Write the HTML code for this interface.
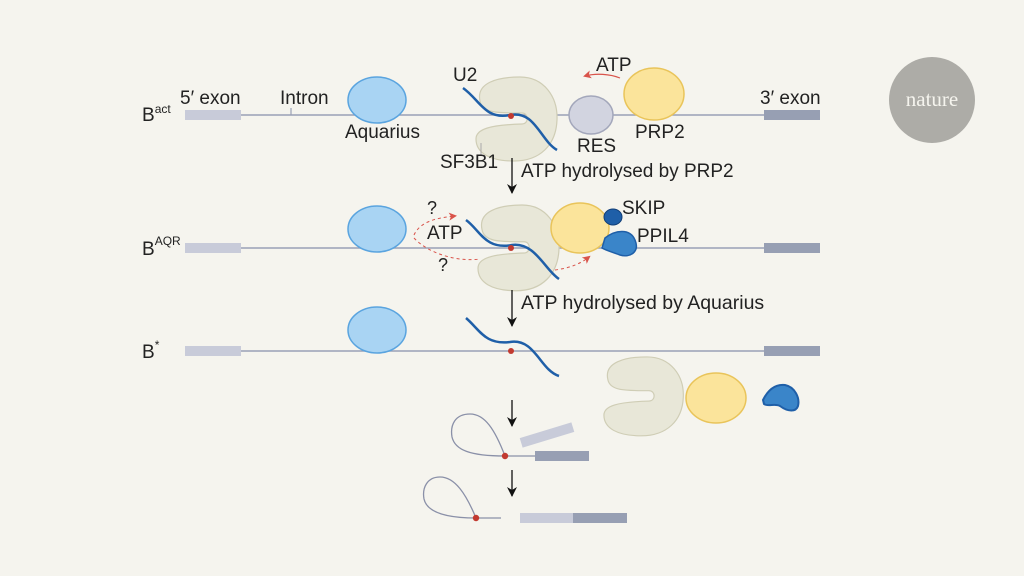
<!DOCTYPE html>
<html><head><meta charset="utf-8"><style>
html,body{margin:0;padding:0;background:#f5f4ee;}
svg{display:block;}
text{font-family:"Liberation Sans",sans-serif;fill:#222;}
</style></head><body>
<svg width="1024" height="576" viewBox="0 0 1024 576" xmlns="http://www.w3.org/2000/svg">
<defs>
<path id="u2" d="M 8,26 C 4,8 25,2 48,2 C 72,2 86,22 85,45 C 84,70 68,86 42,86 C 18,86 4,78 4,64 C 4,54 18,50 50,49 C 57,49 57,38 50,38 C 25,38 10,38 8,26 Z"/>
<marker id="ah" markerWidth="10" markerHeight="10" refX="9" refY="5" orient="auto" markerUnits="userSpaceOnUse"><path d="M0,0 L10,5 L0,10 L3,5 Z" fill="#111"/></marker>
<marker id="rh" markerWidth="8" markerHeight="8" refX="6" refY="4" orient="auto" markerUnits="userSpaceOnUse"><path d="M0,0 L8,4 L0,8 L2,4 Z" fill="#d9534a"/></marker>
</defs>
<rect width="1024" height="576" fill="#f5f4ee"/>

<circle cx="932" cy="100" r="43" fill="#adaca7"/>
<text x="932" y="106" text-anchor="middle" font-size="21" style="fill:#f5f4ee;font-family:'Liberation Serif',serif">nature</text>

<!-- Row 1 -->
<line x1="241" y1="115" x2="764" y2="115" stroke="#9aa0b5" stroke-width="1.5"/>
<rect x="185" y="110" width="56" height="10" fill="#c8cbd9"/>
<rect x="764" y="110" width="56" height="10" fill="#979fb3"/>
<line x1="291" y1="108" x2="291" y2="115" stroke="#9aa0b5" stroke-width="1.2"/>
<text x="142" y="121" font-size="19">B<tspan font-size="12" dy="-8">act</tspan></text>
<text x="180" y="104" font-size="19">5′ exon</text>
<text x="280" y="104" font-size="19">Intron</text>
<text x="760" y="104" font-size="19">3′ exon</text>
<ellipse cx="377" cy="100" rx="29" ry="23" fill="#a9d4f3" stroke="#5aa4df" stroke-width="1.5"/>
<text x="345" y="138" font-size="19">Aquarius</text>
<use href="#u2" transform="translate(472,75)" fill="#e8e7d8" stroke="#cfcdb5" stroke-width="1.2"/>
<path d="M463,88 C480,100 485,120 510,115 C535,110 540,140 557,150" fill="none" stroke="#1f5fa8" stroke-width="2.5"/>
<circle cx="511" cy="116" r="3" fill="#c23a30"/>
<line x1="481" y1="143" x2="481" y2="155" stroke="#aaa" stroke-width="1"/>
<text x="453" y="81" font-size="19">U2</text>
<text x="440" y="168" font-size="19">SF3B1</text>
<ellipse cx="591" cy="115" rx="22" ry="19" fill="#d2d4e0" stroke="#a3a7bb" stroke-width="1.5"/>
<text x="577" y="152" font-size="19">RES</text>
<ellipse cx="654" cy="94" rx="30" ry="26" fill="#fbe49b" stroke="#e9c45a" stroke-width="1.5"/>
<text x="635" y="138" font-size="19">PRP2</text>
<path d="M620,78 C610,74 596,73 585,76" fill="none" stroke="#d9534a" stroke-width="1.2" marker-end="url(#rh)"/>
<text x="596" y="71" font-size="19">ATP</text>

<line x1="512" y1="158" x2="512" y2="193" stroke="#111" stroke-width="1.3" marker-end="url(#ah)"/>
<text x="521" y="177" font-size="19">ATP hydrolysed by PRP2</text>

<!-- Row 2 -->
<line x1="241" y1="248" x2="764" y2="248" stroke="#9aa0b5" stroke-width="1.5"/>
<rect x="185" y="243" width="56" height="10" fill="#c8cbd9"/>
<rect x="764" y="243" width="56" height="10" fill="#979fb3"/>
<text x="142" y="255" font-size="19">B<tspan font-size="12" dy="-10">AQR</tspan></text>
<ellipse cx="377" cy="229" rx="29" ry="23" fill="#a9d4f3" stroke="#5aa4df" stroke-width="1.5"/>
<use href="#u2" transform="translate(474,203) scale(1,1.02)" fill="#e8e7d8" stroke="#cfcdb5" stroke-width="1.2"/>
<path d="M466,220 C480,230 485,250 512,245 C535,242 545,270 559,279" fill="none" stroke="#1f5fa8" stroke-width="2.5"/>
<circle cx="511" cy="248" r="3" fill="#c23a30"/>
<path d="M414,235 C420,222 435,218 455,216" fill="none" stroke="#d9534a" stroke-width="1" stroke-dasharray="3,3" marker-end="url(#rh)"/>
<path d="M414,238 C430,255 460,262 480,259" fill="none" stroke="#d9534a" stroke-width="1" stroke-dasharray="3,3"/>
<path d="M555,270 C570,268 580,264 589,257" fill="none" stroke="#d9534a" stroke-width="1" stroke-dasharray="3,3" marker-end="url(#rh)"/>
<text x="427" y="214" font-size="18">?</text>
<text x="427" y="239" font-size="19">ATP</text>
<text x="438" y="271" font-size="18">?</text>
<ellipse cx="580" cy="228" rx="29" ry="25" fill="#fbe49b" stroke="#e9c45a" stroke-width="1.5"/>
<path d="M605,238 C615,230 630,228 635,240 C640,252 630,258 620,255 C612,252 605,250 602,248 Z" fill="#3a85c9" stroke="#1f5fa8" stroke-width="1.5"/>
<ellipse cx="613" cy="217" rx="9" ry="8" fill="#1f5fa8" stroke="#123f78" stroke-width="1"/>
<text x="622" y="214" font-size="19">SKIP</text>
<text x="637" y="242" font-size="19">PPIL4</text>

<line x1="512" y1="290" x2="512" y2="326" stroke="#111" stroke-width="1.3" marker-end="url(#ah)"/>
<text x="521" y="309" font-size="19.5">ATP hydrolysed by Aquarius</text>

<!-- Row 3 -->
<line x1="241" y1="351" x2="764" y2="351" stroke="#9aa0b5" stroke-width="1.5"/>
<rect x="185" y="346" width="56" height="10" fill="#c8cbd9"/>
<rect x="764" y="346" width="56" height="10" fill="#979fb3"/>
<text x="142" y="358" font-size="19">B<tspan font-size="12" dy="-9">*</tspan></text>
<ellipse cx="377" cy="330" rx="29" ry="23" fill="#a9d4f3" stroke="#5aa4df" stroke-width="1.5"/>
<path d="M466,318 C480,330 485,345 510,342 C535,338 540,370 559,376" fill="none" stroke="#1f5fa8" stroke-width="2.5"/>
<circle cx="511" cy="351" r="3" fill="#c23a30"/>
<use href="#u2" transform="translate(600,355) scale(0.98,0.94)" fill="#e8e7d8" stroke="#cfcdb5" stroke-width="1.2"/>
<ellipse cx="716" cy="398" rx="30" ry="25" fill="#fbe49b" stroke="#e9c45a" stroke-width="1.5"/>
<path d="M763,400 C768,390 775,384 785,385 C795,387 800,398 798,406 C796,412 788,412 780,406 C775,403 768,407 764,404 Z" fill="#3a85c9" stroke="#1f5fa8" stroke-width="2"/>

<!-- Row 4 -->
<line x1="512" y1="400" x2="512" y2="426" stroke="#111" stroke-width="1.3" marker-end="url(#ah)"/>
<path d="M505,456 C495,430 485,414 470,414 C455,414 450,425 452,437 C455,450 470,456 505,456 L535,456" fill="none" stroke="#8a90a8" stroke-width="1.3"/>
<circle cx="505" cy="456" r="3.2" fill="#c23a30"/>
<rect x="535" y="451" width="54" height="10" fill="#979fb3"/>
<rect x="520" y="430" width="54" height="10" fill="#c8cbd9" transform="rotate(-17 547 435)"/>

<!-- Row 5 -->
<line x1="512" y1="470" x2="512" y2="496" stroke="#111" stroke-width="1.3" marker-end="url(#ah)"/>
<path d="M476,518 C466,494 455,477 440,477 C427,477 422,488 424,499 C427,512 445,518 476,518 L501,518" fill="none" stroke="#8a90a8" stroke-width="1.3"/>
<circle cx="476" cy="518" r="3.2" fill="#c23a30"/>
<rect x="520" y="513" width="53" height="10" fill="#c8cbd9"/>
<rect x="573" y="513" width="54" height="10" fill="#979fb3"/>
</svg>
</body></html>
